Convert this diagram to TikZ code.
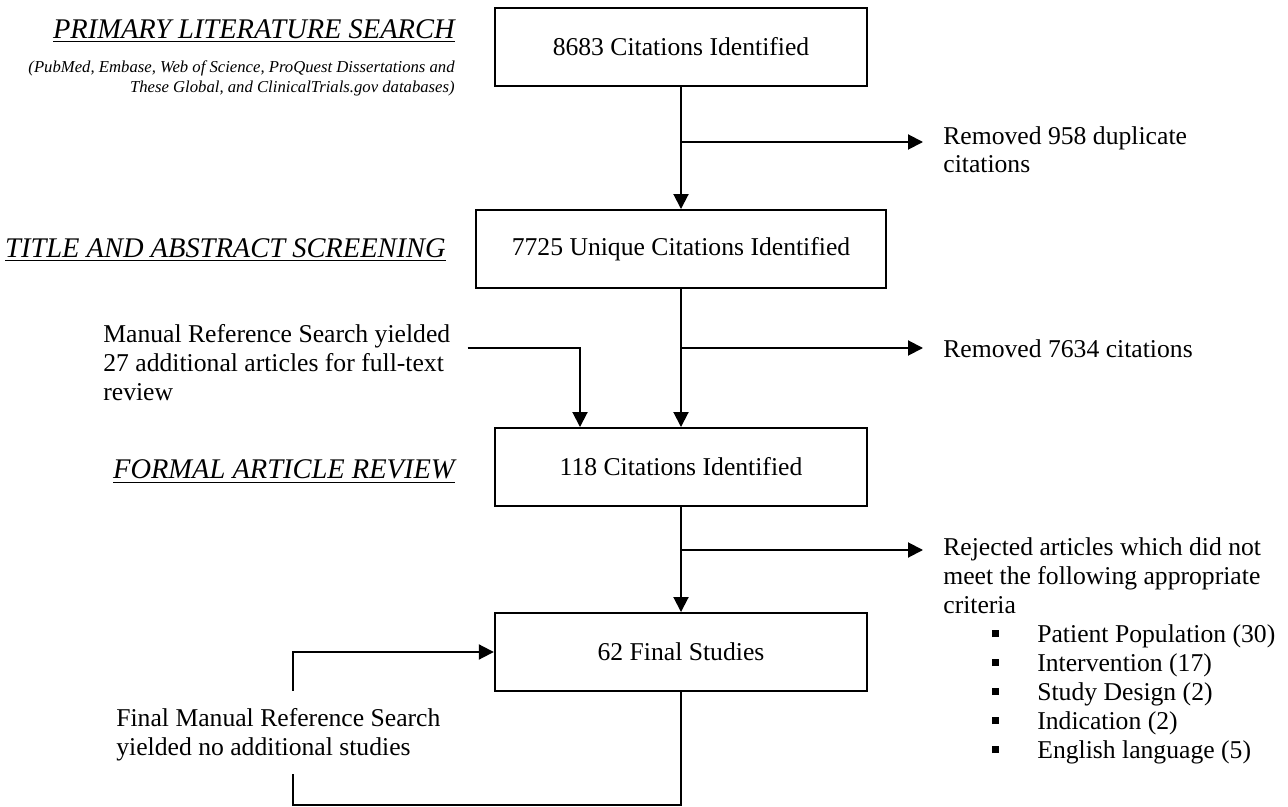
\documentclass[tikz,border=0pt]{standalone}
\usepackage{fontspec}
\setmainfont{Liberation Serif}
\usetikzlibrary{arrows.meta, math}

\newcommand{\bodysize}{\fontsize{14.6pt}{16.5pt}\selectfont}
\newcommand{\headsize}{\fontsize{16.2pt}{19pt}\selectfont\itshape}
\newcommand{\notesize}{\fontsize{9.5pt}{11.9pt}\selectfont\itshape}
\newcommand{\critem}[1]{\hspace*{0.98cm}\rule[0.1cm]{0.14cm}{0.14cm}\hspace*{0.76cm}#1}

\tikzset{
  stepbox/.style={draw, line width=1.4pt, minimum height=1.55cm, inner sep=0pt, font=\bodysize},
  note/.style={inner sep=0pt, font=\bodysize, align=left, anchor=base west},
  head/.style={inner sep=0pt, font=\headsize, anchor=base east},
  flow/.style={line width=1.1pt},
  arr/.style={flow, -{Triangle[length=0.3cm, width=0.3cm]}}
}

\begin{document}
\begin{tikzpicture}[x=0.02cm, y=-0.02cm]
\tikzmath{
\xm=681;
\xt=943;
\xh=455;
}
\useasboundingbox (0,0) rectangle (1288,807);

% boxes
\node[stepbox, minimum width=7.44cm] (cit) at (\xm,47) {8683 Citations Identified};
\node[stepbox, minimum width=8.2cm] (uniq) at (\xm,249) {7725 Unique Citations Identified};
\node[stepbox, minimum width=7.44cm] (full) at (\xm,467) {118 Citations Identified};
\node[stepbox, minimum width=7.44cm] (final) at (\xm,652) {62 Final Studies};

% stages (base = last line)
\node[head] (hsearch) at (\xh,39) {\underline{PRIMARY LITERATURE SEARCH}};
\node[inner sep=0pt, font=\notesize, align=right, anchor=base east] (dbs) at (\xh,93)
  {(PubMed, Embase, Web of Science, ProQuest Dissertations and\\These Global, and ClinicalTrials.gov databases)};
\node[head] (hscreen) at (446,258) {\underline{TITLE AND ABSTRACT SCREENING}};
\node[head] (hreview) at (\xh,479) {\underline{FORMAL ARTICLE REVIEW}};

% side notes
\node[note] (dup) at (\xt,173) {Removed 958 duplicate\\citations};
\node[note] (rm) at (\xt,358) {Removed 7634 citations};
\node[note] (rej) at (\xt,758) {Rejected articles which did not\\meet the following appropriate\\criteria\\
  \critem{Patient Population (30)}\\\critem{Intervention (17)}\\\critem{Study Design (2)}\\
  \critem{Indication (2)}\\\critem{English language (5)}};
\node[note] (man) at (103,400) {Manual Reference Search yielded\\27 additional articles for full-text\\review};
\node[note] (fin) at (116,755) {Final Manual Reference Search\\yielded no additional studies};

% main flow
\draw[arr] (cit) -- (uniq);
\coordinate (b1) at (\xm,142);
\draw[arr, shorten >=0.4cm] (b1) -- (b1 -| dup.west);

\draw[arr] (uniq) -- (full);
\coordinate (b2) at (\xm,348);
\draw[arr, shorten >=0.4cm] (b2) -- (b2 -| rm.west);
\path (full.north) ++(-101,0) coordinate (in3);
\draw[arr, shorten <=0.34cm] (man.east |- b2) -| (in3);

\draw[arr] (full) -- (final);
\coordinate (b3) at (\xm,550);
\draw[arr, shorten >=0.4cm] (b3) -- (b3 -| rej.west);

% final search loop
\coordinate (lp) at (293,805);
\draw[flow, shorten >=0.26cm] (final.south) |- (lp) -- (lp |- fin.south);
\draw[arr, shorten <=0.34cm] (lp |- fin.north) |- (final.west);
\end{tikzpicture}
\end{document}
